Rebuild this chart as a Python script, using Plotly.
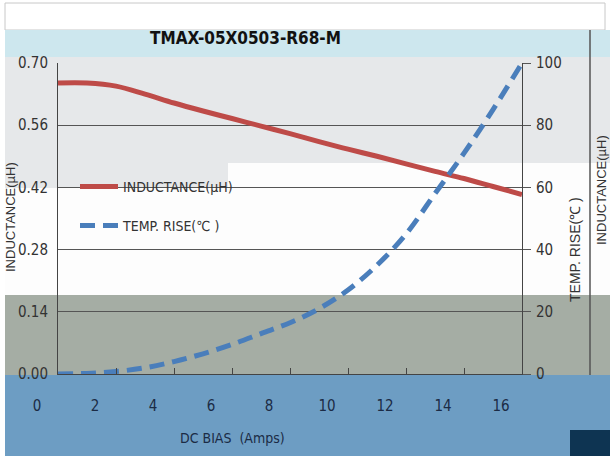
import plotly.graph_objects as go

# ---- data ----
dc_bias = [0, 1, 2, 3, 4, 5, 6, 7, 8, 9, 10, 11, 12, 13, 14, 15, 16]
inductance = [0.655, 0.655, 0.648, 0.630, 0.610, 0.592, 0.575, 0.558, 0.541, 0.523,
              0.506, 0.490, 0.473, 0.456, 0.440, 0.422, 0.404]
temp_rise = [0, 0.2, 0.8, 2.0, 4.0, 6.5, 9.5, 13.0, 16.5, 21.0, 27.0, 35.0, 45.0,
             58.0, 71.0, 85.0, 100.0]
x_ticks = [0, 2, 4, 6, 8, 10, 12, 14, 16]
y_left_ticks = [0.00, 0.14, 0.28, 0.42, 0.56, 0.70]
y_right_ticks = [0, 20, 40, 60, 80, 100]

title_text = "TMAX-05X0503-R68-M"

W, H = 610, 459
L, R, T, B = 58, 522, 63, 374  # plot area in pixels


def px(xp):
    return (xp - L) / (R - L)


def py(yp):
    return (B - yp) / (B - T)


NARROW = "DejaVu Sans Condensed, Liberation Sans Narrow, Liberation Sans"
TXT = "#333333"

fig = go.Figure()
fig.add_trace(go.Scatter(
    x=dc_bias, y=inductance, name="INDUCTANCE(µH)", mode="lines",
    line=dict(color="#BE4B48", width=5, shape="spline"),
    legend="legend"))
fig.add_trace(go.Scatter(
    x=dc_bias, y=temp_rise, name="TEMP. RISE(℃ )", mode="lines", yaxis="y2",
    line=dict(color="#4A7EBB", width=5, dash="15px,8px", shape="spline"),
    legend="legend2"))

# background bands (as seen in the reference picture)
bands = [
    (5, 3, 605, 30, "#ffffff", "#c8c8c8"),
    (5, 30, 610, 57, "#cde7ee", None),
    (5, 57, 610, 163, "#e6e8ea", None),
    (228, 163, 610, 188, "#fdfdfd", None),
    (5, 163, 228, 188, "#e6e8ea", None),
    (5, 188, 610, 295, "#fdfdfd", None),
    (5, 295, 610, 375, "#a5ada4", None),
    (5, 375, 570, 456, "#6d9dc3", None),
    (570, 375, 610, 430, "#6d9dc3", None),
    (570, 430, 610, 456, "#0e3452", None),
]
shapes = []
for x0, y0, x1, y1, col, lc in bands:
    shapes.append(dict(type="rect", xref="paper", yref="paper", layer="below",
                       x0=px(x0), x1=px(x1), y0=py(y1), y1=py(y0),
                       fillcolor=col,
                       line=dict(width=1 if lc else 0, color=lc or col)))
shapes.append(dict(type="line", xref="paper", yref="paper", layer="below",
                   x0=px(590), x1=px(590), y0=py(375), y1=py(30),
                   line=dict(color="#555555", width=1.5)))

fig.update_layout(
    width=W, height=H,
    margin=dict(l=L, r=W - R, t=T, b=H - B),
    paper_bgcolor="#ffffff", plot_bgcolor="rgba(0,0,0,0)",
    shapes=shapes,
    font=dict(family=NARROW, size=14, color=TXT),
    xaxis=dict(range=[0, 16], tickvals=x_ticks, ticks="inside", ticklen=6,
               tickcolor="#444444", showline=True, linecolor="#444444",
               showgrid=False, zeroline=False, ticklabelstandoff=18,
               ticklabelshift=-21,
               tickfont=dict(family=NARROW, size=15, color="#1b2b45")),
    yaxis=dict(range=[0, 0.70], tickvals=y_left_ticks, tickformat=".2f",
               showline=True, linecolor="#444444", showgrid=True,
               gridcolor="#555555", gridwidth=1, zeroline=False, ticks="",
               ticklabelstandoff=6,
               tickfont=dict(family=NARROW, size=15, color=TXT)),
    yaxis2=dict(range=[0, 100], tickvals=y_right_ticks, overlaying="y",
                side="right", showline=True, linecolor="#444444",
                showgrid=False, zeroline=False, ticks="outside", ticklen=8,
                tickcolor="#555555", ticklabelstandoff=2,
                tickfont=dict(family=NARROW, size=15, color=TXT)),
    legend=dict(x=px(75), y=py(187), xanchor="left", yanchor="middle",
                bgcolor="rgba(0,0,0,0)", itemwidth=38,
                font=dict(family=NARROW, size=14, color=TXT)),
    legend2=dict(x=px(75), y=py(226), xanchor="left", yanchor="middle",
                 bgcolor="rgba(0,0,0,0)", itemwidth=38,
                 font=dict(family=NARROW, size=14, color=TXT)),
    showlegend=True,
    annotations=[
        dict(text="<b>" + title_text + "</b>", xref="paper", yref="paper",
             x=px(245), y=py(38), xanchor="center", yanchor="middle",
             showarrow=False, font=dict(family=NARROW, size=17, color="#111111")),
        dict(text="DC BIAS  (Amps)", xref="paper", yref="paper",
             x=px(232), y=py(438), xanchor="center", yanchor="middle",
             showarrow=False, font=dict(family=NARROW, size=14, color="#1b2b45")),
        dict(text="TEMP. RISE(℃ )", xref="paper", yref="paper",
             x=px(575), y=py(250), xanchor="center", yanchor="middle",
             textangle=-90, showarrow=False,
             font=dict(family="Liberation Sans, Arial", size=14, color=TXT)),
        dict(text="INDUCTANCE(µH)", xref="paper", yref="paper",
             x=px(10), y=py(217), xanchor="center", yanchor="middle",
             textangle=-90, showarrow=False,
             font=dict(family="Liberation Sans, Arial", size=13, color=TXT)),
        dict(text="INDUCTANCE(µH)", xref="paper", yref="paper",
             x=px(601), y=py(190), xanchor="center", yanchor="middle",
             textangle=-90, showarrow=False,
             font=dict(family="Liberation Sans, Arial", size=13, color=TXT)),
    ],
)

fig.write_html("out.html",
               config={"displayModeBar": False},
               post_script="document.body.style.margin='0';"
                           "document.body.style.overflow='hidden';")
